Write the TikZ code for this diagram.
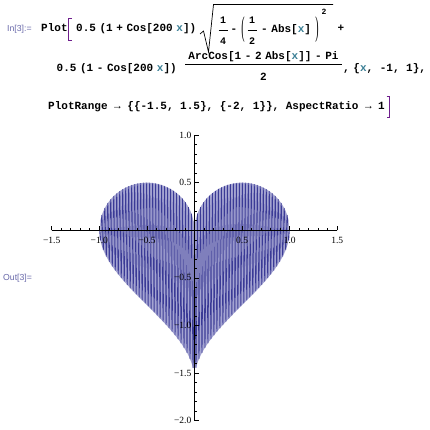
\documentclass[tikz,border=0pt]{standalone}
\usepackage{fontspec}
\setmainfont{Liberation Serif}
\setsansfont{Liberation Sans}
\setmonofont{Liberation Mono}
\usepackage{graphicx}
\definecolor{labcol}{RGB}{105,105,170}
\definecolor{xcol}{RGB}{60,128,150}
\definecolor{brkcol}{RGB}{110,30,140}
\definecolor{heartcol}{RGB}{58,58,150}
\definecolor{heartfill}{RGB}{165,165,210}
\newcommand\cf{\ttfamily\bfseries\fontsize{11}{13}\selectfont}
\newcommand\cfs{\ttfamily\bfseries\fontsize{10}{12}\selectfont}
\newcommand\ns{\hspace{3.6pt}}
\newcommand\xv{\textcolor{xcol}{x}}
\tikzset{
  code/.style={inner sep=0pt, anchor=base west, font=\cf},
  codec/.style={inner sep=0pt, anchor=base, font=\cf},
  small/.style={inner sep=0pt, anchor=base, font=\cfs},
  cellab/.style={inner sep=0pt, anchor=west, text=labcol, font=\sffamily\fontsize{8.7}{10}\selectfont},
  brk/.style={draw=brkcol, line width=0.9pt},
  rule/.style={draw=black, line width=0.7pt},
  axisline/.style={draw=black, line width=0.8pt},
  tickline/.style={draw=black, line width=0.6pt},
  ticklab/.style={inner sep=0pt, font=\rmfamily\fontsize{9.5}{10}\selectfont},
  heartline/.style={draw=heartcol, line width=0.6pt, line join=round},
  heartarea/.style={fill=heartfill, draw=none}
}
\begin{document}
\begin{tikzpicture}[x=1pt, y=-1pt,
  declare function={
    hc(\x)=cos(200*\x r);
    hu(\x)=sqrt(max(0,abs(\x)*(1-abs(\x))));
    hl(\x)=(rad(acos(max(-1,min(1,1-2*abs(\x)))))-pi)/2;
    hy(\x)=0.5*(1+hc(\x))*hu(\x)+0.5*(1-hc(\x))*hl(\x);
  }]
\fill[white] (0,0) rectangle (430,430);
\useasboundingbox (0,0) rectangle (430,430);

% ---- input cell ----
\node[cellab] (inlab) at (7,29) {In[3]:=};
\node[code] (plot) at (41,32) {Plot};
\draw[brk] (71.5,18.5) -- (68.5,18.5) -- (68.5,40) -- (71.5,40);
\node[code] (t1) at (76,32) {0.5\ns(1\ns+\ns Cos[200\ns\xv])};
% radical
\draw[rule, line join=miter] (200,34) -- (203.5,31) -- (208.5,52) -- (213.5,4.5) -- (333,4.5);
% 1/4
\node[small] (n1) at (223,24) {1};
\draw[rule] (218.5,30) -- (227.5,30);
\node[small] (d1) at (223,45) {4};
\node[codec] (m1) at (234,33) {-};
\node[inner sep=0pt, anchor=center, font=\rmfamily\fontsize{11}{12}\selectfont] (lp) at (243,30) {\scalebox{0.9}[2.6]{(}};
% 1/2
\node[small] (n2) at (252,24) {1};
\draw[rule] (247.5,30) -- (256.5,30);
\node[small] (d2) at (252,45) {2};
\node[code] (t2) at (261,33) {-\ns Abs[\xv]};
\node[inner sep=0pt, anchor=center, font=\rmfamily\fontsize{11}{12}\selectfont] (rp) at (317,30) {\scalebox{0.9}[2.6]{)}};
\node[inner sep=0pt, anchor=base, font=\ttfamily\bfseries\fontsize{8}{9}\selectfont] (sq) at (324,15) {2};
\node[codec] (plus) at (341,32) {+};

% line 2
\node[code] (t3) at (56.5,71.5) {0.5\ns(1\ns-\ns Cos[200\ns\xv])};
\node[codec] (num) at (263.5,59.5) {ArcCos[1\ns-\ns2\ns Abs[\xv]]\ns-\ns Pi};
\draw[rule] (185,64.5) -- (342,64.5);
\node[codec] (den) at (263.5,80.5) {2};
\node[code] (t4) at (343,71.5) {,\ns\{\xv, -1, 1\},};

% line 3
\node[code] (t5) at (48,109.5) {PlotRange → \{\{-1.5, 1.5\}, \{-2, 1\}\}, AspectRatio → 1};
\draw[brk] (386.5,96.5) -- (389.5,96.5) -- (389.5,117.5) -- (386.5,117.5);

% ---- output cell ----
\node[cellab] (outlab) at (3,278) {Out[3]=};

\begin{scope}[shift={(194.5,230.3)}, x=95.2pt, y=95.2pt]
  % area swept by the dense oscillation (anti-aliased look)
  \fill[heartarea] plot[domain=-0.99:0.99, samples=120] ({\x},{hu(\x)})
     -- plot[domain=0.99:0.0157, samples=100] ({\x},{hl(\x)})
     -- plot[domain=-0.0157:-0.99, samples=100] ({\x},{hl(\x)}) -- cycle;
  \draw[heartline] plot[domain=-1:1, samples=2401] ({\x},{hy(\x)});
  % axes
  \draw[axisline] (-1.5,0) coordinate (xa) -- (1.5,0) coordinate (xb);
  \draw[axisline] (0,-2) coordinate (ya) -- (0,1) coordinate (yb);
  \foreach \i in {-15,...,15} {
    \draw[tickline] (\i/10,0) -- ++(0,2.5pt);
  }
  \foreach \v in {-1.5,-1,-0.5,0.5,1,1.5} {
    \draw[tickline] (\v,0) -- ++(0,4.5pt);
  }
  \foreach \i in {-20,...,10} {
    \draw[tickline] (0,\i/10) -- ++(2.5pt,0);
  }
  \foreach \v in {-2,-1.5,-1,-0.5,0.5,1} {
    \draw[tickline] (0,\v) -- ++(4.5pt,0);
  }
  \foreach \v/\t in {-1.5/−1.5,-1/−1.0,-0.5/−0.5,0.5/0.5,1/1.0,1.5/1.5} {
    \node[ticklab, anchor=center] at ([yshift=-10pt]\v,0) {\t};
  }
  \foreach \v/\t in {-2/−2.0,-1.5/−1.5,-1/−1.0,-0.5/−0.5,0.5/0.5,1/1.0} {
    \node[ticklab, anchor=east] at ([xshift=-3pt]0,\v) {\t};
  }
\end{scope}
\end{tikzpicture}
\end{document}
